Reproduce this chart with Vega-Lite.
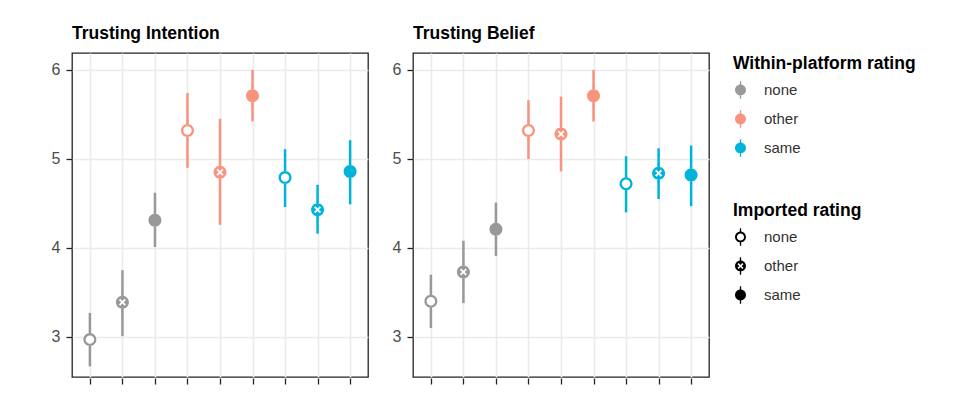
{
  "$schema": "https://vega.github.io/schema/vega-lite/v6.json",
  "background": "white",
  "padding": {"left": 50, "top": 24, "right": 5, "bottom": 5},
  "data": {"values": [
    {"panel": "Trusting Intention", "within": "none", "imported": "none", "cond": "none|none", "mean": 2.97, "lo": 2.67, "hi": 3.27},
    {"panel": "Trusting Intention", "within": "none", "imported": "other", "cond": "none|other", "mean": 3.39, "lo": 3.01, "hi": 3.75},
    {"panel": "Trusting Intention", "within": "none", "imported": "same", "cond": "none|same", "mean": 4.31, "lo": 4.01, "hi": 4.62},
    {"panel": "Trusting Intention", "within": "other", "imported": "none", "cond": "other|none", "mean": 5.32, "lo": 4.90, "hi": 5.74},
    {"panel": "Trusting Intention", "within": "other", "imported": "other", "cond": "other|other", "mean": 4.85, "lo": 4.26, "hi": 5.45},
    {"panel": "Trusting Intention", "within": "other", "imported": "same", "cond": "other|same", "mean": 5.71, "lo": 5.42, "hi": 6.00},
    {"panel": "Trusting Intention", "within": "same", "imported": "none", "cond": "same|none", "mean": 4.79, "lo": 4.46, "hi": 5.11},
    {"panel": "Trusting Intention", "within": "same", "imported": "other", "cond": "same|other", "mean": 4.43, "lo": 4.16, "hi": 4.71},
    {"panel": "Trusting Intention", "within": "same", "imported": "same", "cond": "same|same", "mean": 4.86, "lo": 4.49, "hi": 5.21},
    {"panel": "Trusting Belief", "within": "none", "imported": "none", "cond": "none|none", "mean": 3.40, "lo": 3.10, "hi": 3.70},
    {"panel": "Trusting Belief", "within": "none", "imported": "other", "cond": "none|other", "mean": 3.73, "lo": 3.38, "hi": 4.08},
    {"panel": "Trusting Belief", "within": "none", "imported": "same", "cond": "none|same", "mean": 4.21, "lo": 3.91, "hi": 4.51},
    {"panel": "Trusting Belief", "within": "other", "imported": "none", "cond": "other|none", "mean": 5.32, "lo": 5.00, "hi": 5.66},
    {"panel": "Trusting Belief", "within": "other", "imported": "other", "cond": "other|other", "mean": 5.28, "lo": 4.86, "hi": 5.70},
    {"panel": "Trusting Belief", "within": "other", "imported": "same", "cond": "other|same", "mean": 5.71, "lo": 5.42, "hi": 6.00},
    {"panel": "Trusting Belief", "within": "same", "imported": "none", "cond": "same|none", "mean": 4.72, "lo": 4.40, "hi": 5.03},
    {"panel": "Trusting Belief", "within": "same", "imported": "other", "cond": "same|other", "mean": 4.84, "lo": 4.55, "hi": 5.12},
    {"panel": "Trusting Belief", "within": "same", "imported": "same", "cond": "same|same", "mean": 4.82, "lo": 4.47, "hi": 5.15}
  ]},
  "facet": {
    "column": {
      "field": "panel", "type": "nominal",
      "sort": ["Trusting Intention", "Trusting Belief"],
      "header": {
        "title": null,
        "labelAnchor": "start",
        "labelFont": "Liberation Sans",
        "labelFontWeight": "bold",
        "labelFontSize": 17.5,
        "labelColor": "black",
        "labelPadding": 10,
        "labelOrient": "top"
      }
    }
  },
  "spacing": 22,
  "spec": {
    "width": 296,
    "height": 324,
    "encoding": {
      "x": {
        "field": "cond", "type": "nominal",
        "sort": ["none|none", "none|other", "none|same", "other|none", "other|other", "other|same", "same|none", "same|other", "same|same"],
        "scale": {"type": "point", "padding": 0.55},
        "axis": {
          "title": null, "labels": false, "domain": false,
          "ticks": true, "tickColor": "#222222", "tickSize": 6, "tickWidth": 1.3,
          "grid": true, "gridColor": "#EBEBEB", "gridWidth": 1.6
        }
      }
    },
    "layer": [
      {
        "mark": {"type": "rule", "strokeWidth": 2.5},
        "encoding": {
          "y": {
            "field": "lo", "type": "quantitative",
            "scale": {"domain": [2.55, 6.19], "nice": false, "zero": false},
            "axis": {
              "title": null, "domain": false,
              "values": [3, 3.5, 4, 4.5, 5, 5.5, 6],
              "format": "d",
              "labelExpr": "datum.value % 1 === 0 ? datum.label : ''",
              "labelFont": "Liberation Sans", "labelFontSize": 16, "labelColor": "#4D4D4D",
              "labelPadding": 6,
              "tickColor": "#222222", "tickSize": 6, "tickWidth": 1.3,
              "tickOpacity": {"condition": {"test": "datum.value % 1 !== 0", "value": 0}, "value": 1},
              "grid": true, "gridColor": "#EBEBEB",
              "gridWidth": {"condition": {"test": "datum.value % 1 !== 0", "value": 0.9}, "value": 1.6}
            }
          },
          "y2": {"field": "hi"},
          "color": {"field": "within", "type": "nominal"}
        }
      },
      {
        "mark": {"type": "point", "shape": "circle", "filled": true, "fill": "white", "opacity": 1, "size": 169, "strokeWidth": 0},
        "encoding": {
          "y": {"field": "mean", "type": "quantitative"}
        }
      },
      {
        "mark": {"type": "point", "filled": true, "opacity": 1, "size": 169, "strokeWidth": 0},
        "encoding": {
          "y": {"field": "mean", "type": "quantitative"},
          "color": {
            "field": "within", "type": "nominal",
            "scale": {"domain": ["none", "other", "same"], "range": ["#999999", "#F8937E", "#00B3DA"]},
            "legend": {
              "title": "Within-platform rating",
              "symbolType": "M1,0A1,1,0,0,0,-1,0A1,1,0,0,0,1,0ZM-0.12,0.99V1.6H0.12V0.99ZM-0.12,-0.99H0.12V-1.6H-0.12Z",
              "symbolSize": 120, "symbolStrokeWidth": 0, "symbolOpacity": 1,
              "orient": "none", "legendX": 661, "legendY": 2
            }
          },
          "shape": {
            "field": "imported", "type": "nominal",
            "scale": {
              "range": [
                "M1,0A1,1,0,0,0,-1,0A1,1,0,0,0,1,0ZM0.65,0A0.65,0.65,0,0,1,-0.65,0A0.65,0.65,0,0,1,0.65,0ZM-0.12,0.99V1.6H0.12V0.99ZM-0.12,-0.99H0.12V-1.6H-0.12Z",
                "M1,0A1,1,0,0,0,-1,0A1,1,0,0,0,1,0ZM0.2,0L0.54,0.34L0.34,0.54L0,0.2L-0.34,0.54L-0.54,0.34L-0.2,0L-0.54,-0.34L-0.34,-0.54L0,-0.2L0.34,-0.54L0.54,-0.34ZM-0.12,0.99V1.6H0.12V0.99ZM-0.12,-0.99H0.12V-1.6H-0.12Z",
                "M1,0A1,1,0,0,0,-1,0A1,1,0,0,0,1,0ZM-0.12,0.99V1.6H0.12V0.99ZM-0.12,-0.99H0.12V-1.6H-0.12Z"
              ]
            },
            "legend": {
              "title": "Imported rating",
              "symbolSize": 120, "symbolFillColor": "black", "symbolStrokeColor": "black",
              "symbolStrokeWidth": 0, "symbolOpacity": 1,
              "orient": "none", "legendX": 661, "legendY": 149
            }
          }
        }
      }
    ]
  },
  "resolve": {"axis": {"y": "independent"}},
  "config": {
    "view": {"stroke": "#222222", "strokeWidth": 1.3},
    "legend": {
      "padding": 0,
      "titleFont": "Liberation Sans", "titleFontSize": 17.5, "titleFontWeight": "bold", "titleColor": "black",
      "titleLimit": 400,
      "titlePadding": 10,
      "labelFont": "Liberation Sans", "labelFontSize": 15, "labelColor": "#333333",
      "labelOffset": 16,
      "rowPadding": 10
    }
  }
}
